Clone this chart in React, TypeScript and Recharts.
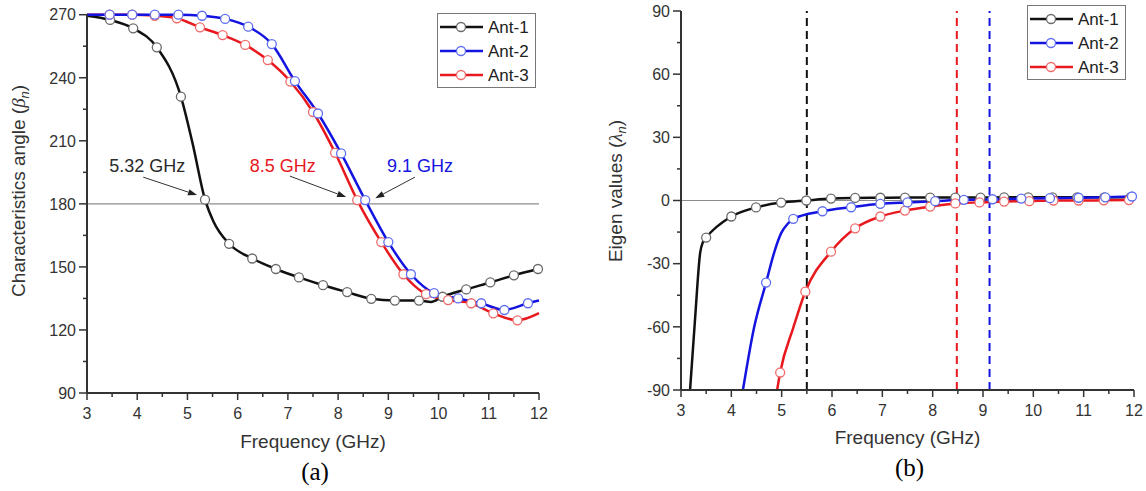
import React from 'react';
import { LineChart, Line, XAxis, YAxis, ReferenceLine, ReferenceDot, Legend } from 'recharts';

// axes
const freqTicks = [3, 3.5, 4, 4.5, 5, 5.5, 6, 6.5, 7, 7.5, 8, 8.5, 9, 9.5, 10, 10.5, 11, 11.5, 12];
const freqLabels = [3, 4, 5, 6, 7, 8, 9, 10, 11, 12];
const angleTicks = [90, 105, 120, 135, 150, 165, 180, 195, 210, 225, 240, 255, 270];
const angleLabels = [90, 120, 150, 180, 210, 240, 270];
const eigenTicks = [-90, -75, -60, -45, -30, -15, 0, 15, 30, 45, 60, 75, 90];
const eigenLabels = [-90, -60, -30, 0, 30, 60, 90];

const names = ['Ant-1', 'Ant-2', 'Ant-3'];

// (a) characteristic angle - symbol points
const angF1 = [3.46, 3.92, 4.39, 4.87, 5.35, 5.83, 6.29, 6.76, 7.22, 7.7, 8.18, 8.66, 9.13, 9.61, 10.08, 10.55, 11.03, 11.5, 11.98];
const angV1 = [267.5, 263.5, 254.5, 231, 182, 161, 154, 149, 145, 141.3, 138, 134.8, 134, 134, 135.8, 139.3, 142.6, 146, 149];
const angF2 = [3.45, 3.9, 4.35, 4.82, 5.29, 5.75, 6.21, 6.68, 7.14, 7.6, 8.06, 8.54, 9.0, 9.45, 9.91, 10.39, 10.85, 11.31, 11.78];
const angV2 = [270, 270, 270, 270, 269.5, 268, 264.3, 256, 238.4, 223, 204, 181.8, 161.8, 146.5, 137.5, 135, 132.7, 129.5, 132.7];
const angF3 = [3.45, 3.9, 4.35, 4.79, 5.25, 5.7, 6.15, 6.6, 7.05, 7.5, 7.94, 8.38, 8.86, 9.3, 9.75, 10.19, 10.65, 11.09, 11.57];
const angV3 = [270, 270, 269.5, 268.3, 264, 260.3, 255.6, 248.4, 238.2, 223.7, 204.3, 181.8, 161.8, 146.5, 137, 134.2, 132.7, 127.9, 124.6];
// extra points on the curves (no symbol)
const angKnotF1 = [3.0, 5.1, 5.52, 9.85];
const angKnotV1 = [269.5, 209, 171.5, 133.3];
const angKnotF2 = [3.0, 12.0];
const angKnotV2 = [270, 134];
const angKnotF3 = [3.0, 12.0];
const angKnotV3 = [270, 128];

// (b) eigen values - symbol points
const eigF1 = [3.5, 4.0, 4.49, 4.99, 5.49, 5.98, 6.46, 6.96, 7.45, 7.95, 8.45, 8.95, 9.42, 9.9, 10.38, 10.87, 11.41, 11.93];
const eigV1 = [-17.6, -7.6, -3.3, -1, 0, 0.9, 1.2, 1.3, 1.4, 1.4, 1.4, 1.4, 1.5, 1.5, 1.5, 1.5, 1.5, 1.5];
const eigF2 = [4.69, 5.23, 5.81, 6.38, 6.96, 7.5, 8.05, 8.62, 9.19, 9.76, 10.33, 10.9, 11.43, 11.96];
const eigV2 = [-39, -8.7, -5.1, -3.2, -1.6, -0.9, -0.3, 0.3, 0.6, 0.9, 1.1, 1.3, 1.5, 1.9];
const eigF3 = [4.97, 5.47, 5.98, 6.46, 6.96, 7.45, 7.95, 8.45, 8.93, 9.42, 9.92, 10.4, 10.9, 11.4, 11.9];
const eigV3 = [-81.7, -43.3, -24.3, -13.2, -7.6, -4.8, -2.9, -1.4, -0.9, -0.5, -0.3, 0, 0, 0.1, 0.2];
const eigKnotF1 = [3.18, 3.28, 3.38, 3.44];
const eigKnotV1 = [-90, -56, -25, -19.5];
const eigKnotF2 = [4.23, 4.45, 4.86, 4.99, 5.13];
const eigKnotV2 = [-90, -60.5, -24, -15.5, -10.8];
const eigKnotF3 = [4.91, 5.23];
const eigKnotV3 = [-90, -60.5];

// resonance markers
const crossLabels = ['5.32 GHz', '8.5 GHz', '9.1 GHz'];
const crossLabelAt = [[4.2, 198.4], [6.9, 198.4], [9.63, 198.4]];
const crossArrows = [
  [[4.12, 192.7], [5.19, 184.2]],
  [[7.04, 193.2], [8.16, 183.2]],
  [[9.53, 192.7], [8.74, 182.7]],
];
const cutoffF = [5.5, 8.48, 9.13];

const lineColors = ['#111111', '#1414e0', '#e8191e'];
const markColors = ['#6a6a6a', '#5f6ef0', '#ef6b6b'];
const labelColors = ['#2a2a2a', '#e8191e', '#1414e0'];
const cutoffColors = ['#111111', '#e8191e', '#1414e0'];
const AXIS = '#333';
const FONT = '"Liberation Sans", Arial, sans-serif';

const zip = (f: number[], v: number[]) => f.map((x, i) => ({ x, y: v[i] }));
const curve = (f: number[], v: number[], kf: number[], kv: number[]) =>
  [...zip(f, v), ...zip(kf, kv)].sort((a, b) => a.x - b.x);

const angMarks = [zip(angF1, angV1), zip(angF2, angV2), zip(angF3, angV3)];
const angCurves = [
  curve(angF1, angV1, angKnotF1, angKnotV1),
  curve(angF2, angV2, angKnotF2, angKnotV2),
  curve(angF3, angV3, angKnotF3, angKnotV3),
];
const eigMarks = [zip(eigF1, eigV1), zip(eigF2, eigV2), zip(eigF3, eigV3)];
const eigCurves = [
  curve(eigF1, eigV1, eigKnotF1, eigKnotV1),
  curve(eigF2, eigV2, eigKnotF2, eigKnotV2),
  curve(eigF3, eigV3, eigKnotF3, eigKnotV3),
];
const drawOrder = [0, 2, 1];

const makeYTick = (labels: number[]) => (p: any) => {
  const major = labels.includes(p.payload.value);
  return (
    <g>
      <line x1={p.x - (major ? 8 : 4)} x2={p.x} y1={p.y} y2={p.y} stroke={AXIS} strokeWidth={1.5} />
      {major && (
        <text x={p.x - 11} y={p.y} dy="0.36em" textAnchor="end" fontSize={16} fill="#333" fontFamily={FONT}>
          {p.payload.value}
        </text>
      )}
    </g>
  );
};

const XTick = (p: any) => {
  const major = freqLabels.includes(p.payload.value);
  return (
    <g>
      <line x1={p.x} x2={p.x} y1={p.y} y2={p.y + (major ? 7 : 4)} stroke={AXIS} strokeWidth={1.5} />
      {major && (
        <text x={p.x} y={p.y + 26} textAnchor="middle" fontSize={16} fill="#333" fontFamily={FONT}>
          {p.payload.value}
        </text>
      )}
    </g>
  );
};

const xTitle = (tag: string, dy: number) => (p: any) => {
  const vb = p.viewBox;
  const cx = vb.x + vb.width / 2;
  return (
    <g>
      <text x={cx} y={vb.y + 55 + dy} textAnchor="middle" fontSize={19} fill="#333" fontFamily={FONT}>
        Frequency (GHz)
      </text>
      <text x={cx + 2} y={vb.y + 87 + dy} textAnchor="middle" fontSize={25} fill="#000" fontFamily='"Liberation Serif", "Times New Roman", serif'>
        {tag}
      </text>
    </g>
  );
};

const yTitle = (main: string, sym: string, bx: number, off: number) => (p: any) => {
  const vb = p.viewBox;
  const x = vb.x + bx;
  const y = vb.y + vb.height / 2 + off;
  return (
    <text x={x} y={y} transform={`rotate(-90 ${x} ${y})`} textAnchor="middle" fontSize={19} fill="#333" fontFamily={FONT}>
      <tspan>{main} (</tspan>
      <tspan fontStyle="italic" fontFamily='"Liberation Serif", serif'>{sym}</tspan>
      <tspan fontStyle="italic" fontSize={13} dy={4}>n</tspan>
      <tspan dy={-4}>)</tspan>
    </text>
  );
};

const Arrow = (p: any) => {
  const { x1, y1, x2, y2 } = p;
  const ang = Math.atan2(y2 - y1, x2 - x1);
  const L = 9;
  const W = 3.2;
  const bx = x2 - L * Math.cos(ang);
  const by = y2 - L * Math.sin(ang);
  const px = -Math.sin(ang) * W;
  const py = Math.cos(ang) * W;
  return (
    <g>
      <line x1={x1} y1={y1} x2={bx} y2={by} stroke="#333" strokeWidth={1} />
      <polygon points={`${x2},${y2} ${bx + px},${by + py} ${bx - px},${by - py}`} fill="#222" />
    </g>
  );
};

const LegendBox = () => (
  <div style={{ border: '1px solid #777', background: '#fff', width: 97, height: 73 }}>
    <svg width={97} height={73} style={{ display: 'block' }}>
      {names.map((n, i) => {
        const cy = 13 + i * 24;
        return (
          <g key={n}>
            <line x1={2} x2={45} y1={cy} y2={cy} stroke={lineColors[i]} strokeWidth={2.5} />
            <circle cx={23} cy={cy} r={4.5} fill="#fff" stroke={markColors[i]} strokeWidth={1.3} />
            <text x={50} y={cy} dy="0.36em" fontSize={17} fill="#222" fontFamily={FONT}>{n}</text>
          </g>
        );
      })}
    </svg>
  </div>
);

const seriesLines = (curves: any[], marks: any[]) =>
  drawOrder.flatMap((i) => [
    <Line
      key={`c${i}`}
      data={curves[i]}
      dataKey="y"
      type="monotone"
      stroke={lineColors[i]}
      strokeWidth={2.5}
      dot={false}
      activeDot={false}
      isAnimationActive={false}
      legendType="none"
    />,
    <Line
      key={`m${i}`}
      data={marks[i]}
      dataKey="y"
      stroke="none"
      dot={{ r: 4.5, fill: '#fff', stroke: markColors[i], strokeWidth: 1.3 }}
      activeDot={false}
      isAnimationActive={false}
      legendType="none"
    />,
  ]);

export default function App() {
  return (
    <div style={{ position: 'absolute', left: 0, top: 0, width: 1146, height: 491, background: '#fff', fontFamily: FONT }}>
      <div style={{ position: 'absolute', left: 0, top: 0 }}>
        <LineChart width={560} height={491} margin={{ top: 14.7, right: 21, bottom: 68, left: 0 }}>
          <XAxis
            type="number"
            dataKey="x"
            domain={[3, 12]}
            ticks={freqTicks}
            interval={0}
            tickSize={0}
            tickMargin={0}
            tickLine={false}
            tick={XTick}
            axisLine={{ stroke: AXIS, strokeWidth: 2 }}
            height={30}
            label={{ content: xTitle('(a)', 0) }}
          />
          <YAxis
            type="number"
            domain={[90, 270]}
            ticks={angleTicks}
            interval={0}
            tickSize={0}
            tickMargin={0}
            tickLine={false}
            tick={makeYTick(angleLabels)}
            axisLine={{ stroke: AXIS, strokeWidth: 2 }}
            width={87}
            label={{ content: yTitle('Characteristics angle', 'β', 25, -13) }}
          />
          <ReferenceLine y={180} stroke="#8c8c8c" strokeWidth={1.2} />
          {seriesLines(angCurves, angMarks)}
          {crossArrows.map((a, i) => (
            <ReferenceLine
              key={`a${i}`}
              segment={[{ x: a[0][0], y: a[0][1] }, { x: a[1][0], y: a[1][1] }]}
              shape={Arrow}
            />
          ))}
          {crossLabels.map((t, i) => (
            <ReferenceDot
              key={`l${i}`}
              x={crossLabelAt[i][0]}
              y={crossLabelAt[i][1]}
              r={0}
              fill="none"
              stroke="none"
              label={{ value: t, position: 'center', fill: labelColors[i], fontSize: 18, fontFamily: FONT }}
            />
          ))}
          <Legend
            layout="horizontal"
            verticalAlign="middle"
            align="center"
            wrapperStyle={{ left: 437, top: 13, width: 99, height: 75 }}
            content={() => <LegendBox />}
          />
        </LineChart>
      </div>
      <div style={{ position: 'absolute', left: 580, top: 0 }}>
        <LineChart width={566} height={491} margin={{ top: 11, right: 12, bottom: 71, left: 0 }}>
          <XAxis
            type="number"
            dataKey="x"
            domain={[3, 12]}
            ticks={freqTicks}
            interval={0}
            tickSize={0}
            tickMargin={0}
            tickLine={false}
            tick={XTick}
            axisLine={{ stroke: AXIS, strokeWidth: 2 }}
            height={30}
            label={{ content: xTitle('(b)', -1) }}
          />
          <YAxis
            type="number"
            domain={[-90, 90]}
            ticks={eigenTicks}
            interval={0}
            tickSize={0}
            tickMargin={0}
            tickLine={false}
            tick={makeYTick(eigenLabels)}
            axisLine={{ stroke: AXIS, strokeWidth: 2 }}
            width={101}
            label={{ content: yTitle('Eigen values', 'λ', 42, -9.5) }}
          />
          <ReferenceLine y={0} stroke="#8c8c8c" strokeWidth={1.2} />
          {cutoffF.map((f, i) => (
            <ReferenceLine key={`v${i}`} x={f} stroke={cutoffColors[i]} strokeWidth={2} strokeDasharray="8 5" />
          ))}
          {seriesLines(eigCurves, eigMarks)}
          <Legend
            layout="horizontal"
            verticalAlign="middle"
            align="center"
            wrapperStyle={{ left: 447, top: 5, width: 99, height: 77 }}
            content={() => <LegendBox />}
          />
        </LineChart>
      </div>
    </div>
  );
}
